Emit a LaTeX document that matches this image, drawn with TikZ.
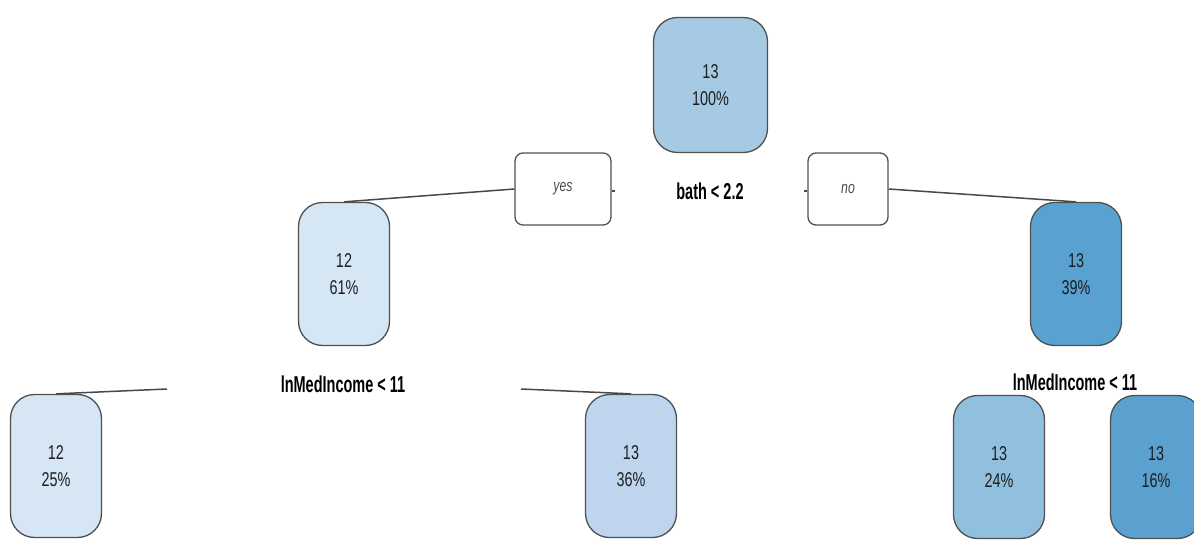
\documentclass[tikz,border=0pt]{standalone}
\usepackage{fontspec}
\setmainfont{Liberation Sans}
\newfontfamily\condfont[FakeStretch=0.72]{Liberation Sans}
\newfontfamily\labfont[FakeStretch=0.63]{Liberation Sans}
\usetikzlibrary{backgrounds}
\definecolor{cRoot}{HTML}{A6C9E4}
\definecolor{cSixtyOne}{HTML}{D5E6F5}
\definecolor{cThirtyNine}{HTML}{58A1D0}
\definecolor{cTwentyFive}{HTML}{D6E6F5}
\definecolor{cThirtySix}{HTML}{BED5ED}
\definecolor{cTwentyFour}{HTML}{91C0DF}
\definecolor{cSixteen}{HTML}{5AA1CF}
\definecolor{cBorder}{HTML}{505050}
\definecolor{cText}{HTML}{1E1E1E}
\tikzset{
  leafbox/.style={draw=cBorder, line width=1.3pt, rounded corners=24pt,
    minimum width=91pt, minimum height=143pt, inner sep=0pt, align=center,
    text=cText, font=\condfont\fontsize{20}{27}\selectfont},
  tagbox/.style={draw=cBorder, fill=white, line width=1.3pt, rounded corners=8pt,
    minimum height=72pt, inner sep=0pt, text=cText!80,
    font=\condfont\itshape\fontsize{17}{17}\selectfont},
  splitlab/.style={inner sep=0pt, text=black, font=\labfont\bfseries\fontsize{23}{23}\selectfont},
  branch/.style={draw=cBorder!90!black, line width=1.5pt}
}
\begin{document}
\begin{tikzpicture}[x=1pt,y=-1pt]
\useasboundingbox (0,0) rectangle (1194,540);
% nodes
\node[leafbox, fill=cRoot, minimum width=114pt, minimum height=135pt] (root) at (710.5,85) {13\\100\%};
\node[tagbox, minimum width=96pt] (yes) at (563,189) {yes};
\node[tagbox, minimum width=80pt] (no) at (848,189) {no};
\node[splitlab] (bath) at (710,191) {bath < 2.2};
\node[leafbox, fill=cSixtyOne] (n61) at (344,274) {12\\61\%};
\node[leafbox, fill=cThirtyNine] (n39) at (1076,274) {13\\39\%};
\node[splitlab] (lab1) at (343,384) {lnMedIncome < 11};
\node[splitlab] (lab2) at (1075,382) {lnMedIncome < 11};
\node[leafbox, fill=cTwentyFive] (n25) at (56,466) {12\\25\%};
\node[leafbox, fill=cThirtySix] (n36) at (631,466) {13\\36\%};
\node[leafbox, fill=cTwentyFour] (n24) at (999,467) {13\\24\%};
\node[leafbox, fill=cSixteen] (n16) at (1156,467) {13\\16\%};
\coordinate (l1a) at (167,389);
\coordinate (l1b) at (521,389);
\coordinate (yesstub) at (615,191);
\coordinate (nostub) at (804,191);
% connectors
\begin{scope}[on background layer]
\draw[branch] (yes.west) -- (n61.north);
\draw[branch] (no.east) -- (n39.north);
\draw[branch] (yes.east |- yesstub) -- (yesstub);
\draw[branch] (no.west |- nostub) -- (nostub);
\draw[branch] (l1a) -- (n25.north);
\draw[branch] (l1b) -- (n36.north);
\end{scope}
\end{tikzpicture}
\end{document}
